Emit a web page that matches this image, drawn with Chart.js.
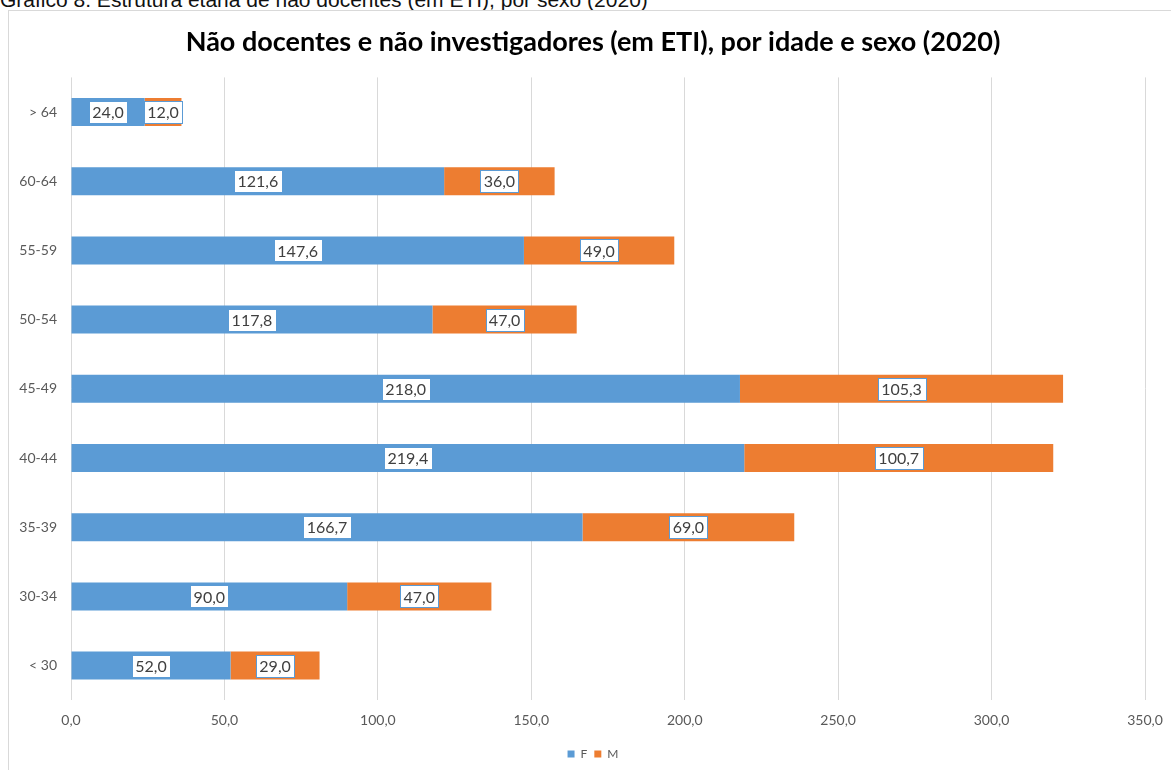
<!DOCTYPE html>
<html>
<head>
<meta charset="utf-8">
<script src="https://cdn.jsdelivr.net/npm/chart.js@4.4.0/dist/chart.umd.js"></script>
<style>
  html, body { margin: 0; padding: 0; background: #fff; overflow: hidden; }
  #caption {
    position: absolute; left: 0; top: -11px;
    font-family: "Liberation Sans", Arial, sans-serif; font-size: 21px; line-height: 21px;
    color: #111; white-space: nowrap;
  }
  #frame {
    position: absolute; left: 8px; top: 10px; width: 1300px; height: 900px;
    border: 1px solid #d9d9d9; box-sizing: border-box;
  }
  #wrap { position: absolute; left: 0; top: 0; width: 1186px; height: 770px; }
</style>
</head>
<body>
<div id="caption">Gráfico 8. Estrutura etária de não docentes (em ETI), por sexo (2020)</div>
<div id="frame"></div>
<div id="wrap"><canvas id="chart"></canvas></div>
<script>
const ageGroups = ["> 64", "60-64", "55-59", "50-54", "45-49", "40-44", "35-39", "30-34", "< 30"];
const femaleValues = [24.0, 121.6, 147.6, 117.8, 218.0, 219.4, 166.7, 90.0, 52.0];
const maleValues = [12.0, 36.0, 49.0, 47.0, 105.3, 100.7, 69.0, 47.0, 29.0];
const xTicks = [0, 50, 100, 150, 200, 250, 300, 350];

const fmt = v => v.toFixed(1).replace(".", ",");

// caixas brancas com o valor no centro de cada segmento
const boxLabels = {
    id: "boxLabels",
    afterDatasetsDraw(chart) {
        const ctx = chart.ctx;
        ctx.save();
        ctx.font = "16px Lato";
        ctx.textAlign = "center";
        ctx.textBaseline = "middle";
        chart.data.datasets.forEach((ds, di) => {
            const meta = chart.getDatasetMeta(di);
            meta.data.forEach((bar, i) => {
                const p = bar.getCenterPoint();
                const txt = fmt(ds.data[i]);
                const w = Math.round(ctx.measureText(txt).width) + 7;
                const h = 22;
                const x = Math.round(p.x - w / 2) + 0.5;
                const y = Math.round(p.y - h / 2) + 0.5;
                ctx.fillStyle = "#ffffff";
                ctx.fillRect(x, y, w, h);
                ctx.strokeStyle = "#5b9bd5";
                ctx.lineWidth = 1;
                ctx.strokeRect(x, y, w, h);
                ctx.fillStyle = "#404040";
                ctx.fillText(txt, p.x, p.y + 1);
            });
        });
        ctx.restore();
    }
};

new Chart(document.getElementById("chart"), {
    type: "bar",
    data: {
        labels: ageGroups,
        datasets: [
            { label: "F", data: femaleValues, backgroundColor: "#5b9bd5" },
            { label: "M", data: maleValues, backgroundColor: "#ed7d31" }
        ]
    },
    options: {
        indexAxis: "y",
        responsive: true,
        maintainAspectRatio: false,
        animation: false,
        layout: { padding: { left: 0, right: 0, top: 0, bottom: 0 } },
        datasets: { bar: { categoryPercentage: 1, barPercentage: 0.405 } },
        scales: {
            x: {
                stacked: true,
                min: 0, max: 350,
                afterBuildTicks: axis => { axis.ticks = xTicks.map(v => ({ value: v })); },
                grid: { color: "#d9d9d9", drawTicks: false },
                border: { display: false },
                ticks: { color: "#595959", font: { family: "Lato", size: 14 }, padding: 12, callback: v => fmt(v) }
            },
            y: {
                stacked: true,
                grid: { display: false, drawTicks: false },
                border: { display: false },
                ticks: { color: "#595959", font: { family: "Lato", size: 14 }, padding: 14 },
                afterFit: axis => { axis.width = 71; }
            },
            // marge à droite de la zone de tracé
            yRight: {
                type: "category",
                position: "right",
                grid: { display: false, drawTicks: false },
                border: { display: false },
                ticks: { display: false },
                afterFit: axis => { axis.width = 41; }
            }
        },
        plugins: {
            title: {
                display: true,
                text: "Não docentes e não investigadores (em ETI), por idade e sexo (2020)",
                color: "#000",
                font: { family: "Lato", size: 27, weight: "bold" },
                padding: { top: 26, bottom: 19 }
            },
            legend: {
                position: "bottom",
                labels: { color: "#595959", font: { family: "Lato", size: 12 }, boxWidth: 7, boxHeight: 7, padding: 7 }
            },
            tooltip: { enabled: false }
        }
    },
    plugins: [boxLabels]
});
</script>
</body>
</html>
